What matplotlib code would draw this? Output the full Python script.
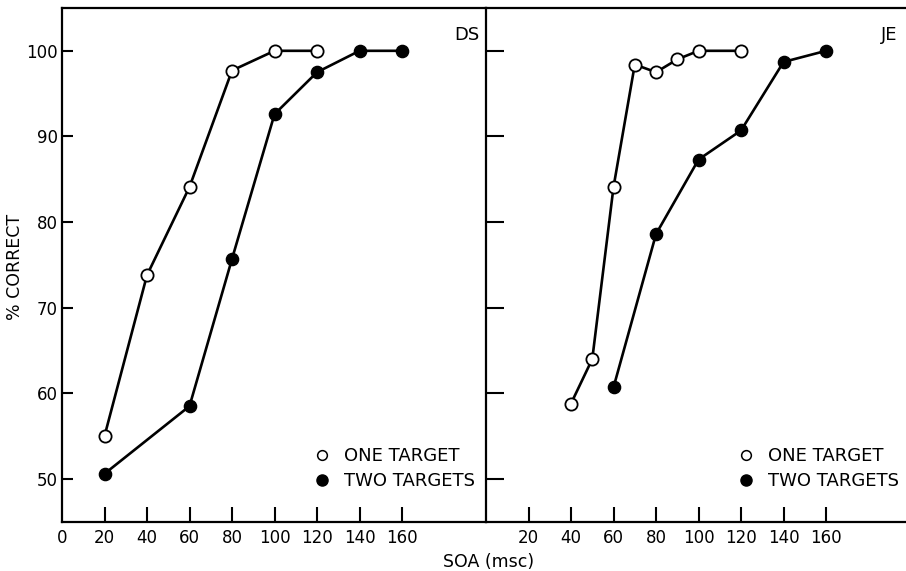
import matplotlib
matplotlib.use("Agg")
import matplotlib.pyplot as plt
from matplotlib.lines import Line2D

plt.rcParams['font.family'] = ['DejaVu Sans']

# Data: DS panel
ds_one_x = [20, 40, 60, 80, 100, 120]
ds_one_y = [55.0, 73.8, 84.1, 97.7, 100.0, 100.0]
ds_two_x = [20, 60, 80, 100, 120, 140, 160]
ds_two_y = [50.6, 58.5, 75.7, 92.6, 97.5, 100.0, 100.0]

# Data: JE panel
je_one_x = [40, 50, 60, 70, 80, 90, 100, 120]
je_one_y = [58.8, 64.0, 84.1, 98.4, 97.5, 99.0, 100.0, 100.0]
je_two_x = [60, 80, 100, 120, 140, 160]
je_two_y = [60.7, 78.6, 87.3, 90.7, 98.7, 100.0]

left_xticks = [0, 20, 40, 60, 80, 100, 120, 140, 160]
right_xticks = [20, 40, 60, 80, 100, 120, 140, 160]
yticks = [50, 60, 70, 80, 90, 100]
labels = ["ONE TARGET", "TWO TARGETS"]

W, H = 906, 571
fig = plt.figure(figsize=(W / 100, H / 100), dpi=100)
bot = 1 - 521.7 / H
top = 1 - 8 / H
axL = fig.add_axes([62 / W, bot, (486 - 62) / W, top - bot])
axR = fig.add_axes([486 / W, bot, (906 - 486) / W, top - bot])

lw = 1.9
ms = 8.8

def draw(ax, ox, oy, tx, ty):
    ax.plot(ox, oy, '-', color='black', lw=lw, marker='o', ms=ms,
            mfc='white', mec='black', mew=1.3, zorder=3)
    ax.plot(tx, ty, '-', color='black', lw=lw, marker='o', ms=ms,
            mfc='black', mec='black', zorder=3)
    ax.set_ylim(45, 105)
    for s in ['left', 'top', 'bottom']:
        ax.spines[s].set_linewidth(1.6)
    ax.spines['right'].set_visible(False)
    ax.tick_params(axis='both', direction='in', width=1.5, labelsize=12)
    ax.tick_params(axis='x', length=11, pad=5)
    ax.tick_params(axis='y', pad=3)

draw(axL, ds_one_x, ds_one_y, ds_two_x, ds_two_y)
draw(axR, je_one_x, je_one_y, je_two_x, je_two_y)

axL.set_xlim(0, 199.5)
axR.set_xlim(0, 197.6)

axL.set_xticks(left_xticks)
axL.set_xticklabels([str(v) for v in left_xticks])
axL.xaxis.get_major_ticks()[0].tick1line.set_visible(False)
axR.set_xticks(right_xticks)
axR.set_xticklabels([str(v) for v in right_xticks])

axL.set_yticks(yticks)
axL.set_yticklabels([str(v) for v in yticks])
axL.tick_params(axis='y', length=8)
axR.set_yticks(yticks)
axR.set_yticklabels([])
axR.tick_params(axis='y', length=13)

fig.text(15 / W, 1 - 267 / H, "% CORRECT", rotation=90, ha='center', va='center', fontsize=12.5)
fig.text(489 / W, 1 - 562 / H, "SOA (msc)", ha='center', va='center', fontsize=12.5)

axL.text(0.985, 0.965, "DS", transform=axL.transAxes, ha='right', va='top', fontsize=13)
axR.text(0.98, 0.965, "JE", transform=axR.transAxes, ha='right', va='top', fontsize=13)

handles = [Line2D([], [], ls='none', marker='o', ms=7, mfc='white', mec='black', mew=1.1),
           Line2D([], [], ls='none', marker='o', ms=8, mfc='black', mec='black')]
for ax, xa in [(axL, 0.57), (axR, 0.575)]:
    ax.legend(handles, labels, loc='lower left', bbox_to_anchor=(xa, 0.044),
              frameon=False, fontsize=13, borderpad=0, handlelength=1.0,
              handletextpad=0.75, labelspacing=0.4)

fig.savefig("out.png", dpi=100)
